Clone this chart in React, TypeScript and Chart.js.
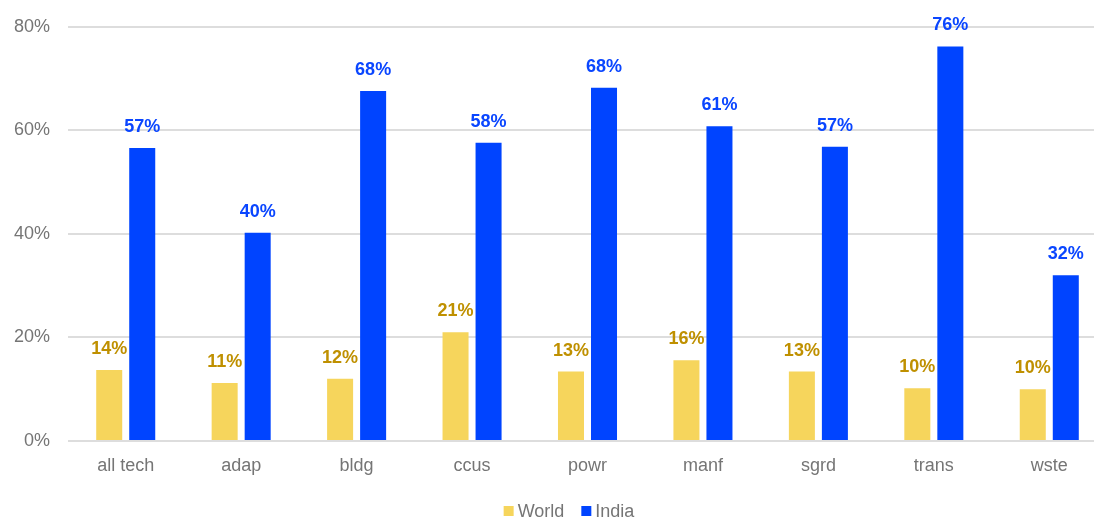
import React, { useEffect, useRef } from "react";
import { Chart, registerables } from "chart.js";

Chart.register(...registerables);

const categories = ["all tech", "adap", "bldg", "ccus", "powr", "manf", "sgrd", "trans", "wste"];
const worldValues = [13.7, 11.2, 12.0, 21.0, 13.4, 15.6, 13.4, 10.2, 10.0];
const indiaValues = [56.6, 40.2, 67.6, 57.6, 68.2, 60.8, 56.8, 76.2, 32.0];
const yTicks = [0, 20, 40, 60, 80];
const seriesNames = ["World", "India"];

const FONT = "'Liberation Sans', Arial, sans-serif";
const WORLD_BAR = "#F6D55C";
const INDIA_BAR = "#0044FF";
const WORLD_LABEL = "#BF9000";
const INDIA_LABEL = "#0A46FF";
const GRAY = "#757575";

const valueLabels = {
  id: "valueLabels",
  afterDatasetsDraw(chart: any) {
    const ctx = chart.ctx;
    ctx.save();
    ctx.font = `bold 18px ${FONT}`;
    ctx.textAlign = "center";
    ctx.textBaseline = "alphabetic";
    chart.data.datasets.forEach((ds: any, i: number) => {
      const meta = chart.getDatasetMeta(i);
      ctx.fillStyle = ds.labelColor;
      meta.data.forEach((bar: any, j: number) => {
        const v = ds.data[j];
        ctx.fillText(Math.round(v) + "%", bar.x, bar.y - 16);
      });
    });
    ctx.restore();
  },
};

const customLegend = {
  id: "customLegend",
  afterDraw(chart: any) {
    const ctx = chart.ctx;
    ctx.save();
    ctx.font = `18px ${FONT}`;
    ctx.textBaseline = "alphabetic";
    ctx.textAlign = "left";
    const box = 10;
    const gapBoxText = 4;
    const itemGap = 17;
    const items = chart.data.datasets.map((ds: any) => ({
      label: ds.label,
      color: ds.backgroundColor,
      w: box + gapBoxText + ctx.measureText(ds.label).width,
    }));
    const total = items.reduce((s: number, it: any) => s + it.w, 0) + itemGap * (items.length - 1);
    let x = 569 - total / 2;
    const baseline = 517;
    items.forEach((it: any) => {
      ctx.fillStyle = it.color;
      ctx.fillRect(x, baseline - 11, box, box);
      ctx.fillStyle = GRAY;
      ctx.fillText(it.label, x + box + gapBoxText, baseline);
      x += it.w + itemGap;
    });
    ctx.restore();
  },
};

export default function App() {
  const ref = useRef<HTMLCanvasElement | null>(null);
  useEffect(() => {
    if (!ref.current) return;
    const chart = new Chart(ref.current, {
      type: "bar",
      data: {
        labels: categories,
        datasets: [
          {
            label: seriesNames[0],
            data: worldValues,
            backgroundColor: WORLD_BAR,
            labelColor: WORLD_LABEL,
            categoryPercentage: 0.572,
            barPercentage: 0.788,
          } as any,
          {
            label: seriesNames[1],
            data: indiaValues,
            backgroundColor: INDIA_BAR,
            labelColor: INDIA_LABEL,
            categoryPercentage: 0.572,
            barPercentage: 0.788,
          } as any,
        ],
      },
      options: {
        animation: false,
        responsive: false,
        maintainAspectRatio: false,
        layout: { padding: { top: 26.7, bottom: 39, left: 0, right: 0 } },
        plugins: {
          legend: { display: false },
          tooltip: { enabled: false },
        },
        scales: {
          x: {
            grid: { display: false, drawTicks: false },
            border: { display: false },
            ticks: { color: GRAY, font: { family: FONT, size: 18 }, padding: 14 },
            afterFit: (s: any) => {
              s.height = 40;
              s.paddingLeft = 0;
              s.paddingRight = 0;
            },
          },
          y: {
            min: 0,
            max: 80,
            afterBuildTicks: (s: any) => {
              s.ticks = yTicks.map((v) => ({ value: v }));
            },
            grid: { color: "#DDDDDD", lineWidth: 2, drawTicks: false },
            border: { display: false },
            ticks: {
              color: GRAY,
              font: { family: FONT, size: 18 },
              padding: 18,
              callback: (v: any) => v + "%",
            },
            afterFit: (s: any) => {
              s.width = 68;
              s.paddingTop = 0;
              s.paddingBottom = 0;
            },
          },
        },
      },
      plugins: [valueLabels, customLegend],
    });
    return () => chart.destroy();
  }, []);
  return (
    <div style={{ position: "fixed", left: 0, top: 0, width: 1107, height: 520, background: "#fff" }}>
      <canvas ref={ref} width={1107} height={520} style={{ display: "block" }} />
    </div>
  );
}
